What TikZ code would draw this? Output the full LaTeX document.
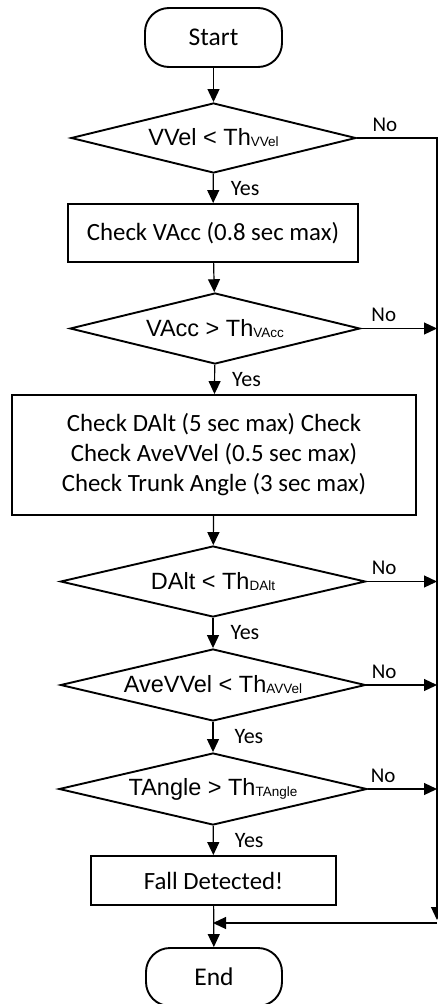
\documentclass[tikz,border=0pt]{standalone}
\usepackage{fontspec}
\newfontfamily\cali{Carlito}
\newfontfamily\arialike{Liberation Sans}
\usetikzlibrary{shapes.geometric,arrows.meta,calc}

% subscript for the threshold names
\newcommand{\thsub}[1]{Th{\fontsize{13.5pt}{13.5pt}\selectfont\raisebox{-1pt}{#1}}}

\tikzset{
  terminal/.style={draw, line width=1.9pt, rounded corners=24pt, inner sep=0pt,
    font=\cali\fontsize{25.5pt}{28pt}\selectfont},
  procbox/.style={draw, line width=1.9pt, inner sep=0pt, align=center,
    font=\cali\fontsize{24.8pt}{30pt}\selectfont},
  decision/.style={draw, diamond, aspect=4, line width=1.9pt, inner sep=0pt,
    font=\arialike\fontsize{23.5pt}{26pt}\selectfont},
  arr/.style={line width=1.2pt, -{Triangle[length=13pt,width=12pt]}},
  yeslbl/.style={font=\cali\fontsize{22pt}{24pt}\selectfont, anchor=west, inner sep=0pt, xshift=17pt},
  nolbl/.style={font=\cali\fontsize{21pt}{24pt}\selectfont, anchor=base, inner sep=0pt}
}

\begin{document}
\begin{tikzpicture}[x=1pt, y=-1pt]
  \useasboundingbox (0,0) rectangle (438,1004);

  % main column
  \node[terminal, minimum width=137pt, minimum height=59pt] (start) at (213.5,37.5) {Start};
  \node[decision, minimum width=285pt, minimum height=70pt] (d1) at (213.5,138) {VVel < \thsub{VVel}};
  \node[procbox, minimum width=290pt, minimum height=58pt] (b1) at (213,233) {Check VAcc (0.8 sec max)};
  \node[decision, minimum width=290pt, minimum height=71pt] (d2) at (215,328.5) {VAcc > \thsub{VAcc}};
  \node[procbox, minimum width=404pt, minimum height=120pt] (b2) at (214,455)
    {Check DAlt (5 sec max) Check\\Check AveVVel (0.5 sec max)\\Check Trunk Angle (3 sec max)};
  \node[decision, minimum width=305pt, minimum height=71pt] (d3) at (213,581.5) {DAlt < \thsub{DAlt}};
  \node[decision, minimum width=305pt, minimum height=72pt] (d4) at (213,685) {AveVVel < \thsub{AVVel}};
  \node[decision, minimum width=308pt, minimum height=72pt] (d5) at (213,789) {TAngle > \thsub{TAngle}};
  \node[procbox, minimum width=245pt, minimum height=49pt] (b3) at (213.5,880.5) {Fall Detected!};
  \node[terminal, minimum width=136pt, minimum height=58pt] (end) at (214,977) {End};

  % right-hand "No" rail and where it rejoins the column
  \coordinate (rail) at (437,0);
  \coordinate (rbot) at (437,923);
  \coordinate (join) at (213,923);

  % "Yes" path
  \draw[arr] (start) -- (d1);
  \draw[arr] (d1) -- node[yeslbl]{Yes} (b1);
  \draw[arr] (b1) -- (d2);
  \draw[arr] (d2) -- node[yeslbl]{Yes} (b2);
  \draw[arr] (b2) -- (d3);
  \draw[arr] (d3) -- node[yeslbl]{Yes} (d4);
  \draw[arr] (d4) -- node[yeslbl, xshift=4pt]{Yes} (d5);
  \draw[arr] (d5) -- node[yeslbl, xshift=4pt]{Yes} (b3);
  \draw[arr] (b3) -- (end);

  % "No" branches
  \draw[arr] (d1.east) -- node[nolbl, pos=0.35, yshift=7pt]{No} (d1.east -| rail) -- ($(rbot)+(0,-3)$);
  \draw[arr] (d2.east) -- node[nolbl, pos=0.3, yshift=7pt]{No} (d2.east -| rail);
  \draw[arr] (d3.east) -- node[nolbl, pos=0.25, yshift=7pt]{No} (d3.east -| rail);
  \draw[arr] (d4.east) -- node[nolbl, pos=0.25, yshift=7pt]{No} (d4.east -| rail);
  \draw[arr] (d5.east) -- node[nolbl, pos=0.22, yshift=7pt]{No} (d5.east -| rail);
  \draw[arr] (rbot) -- (join);
\end{tikzpicture}
\end{document}
